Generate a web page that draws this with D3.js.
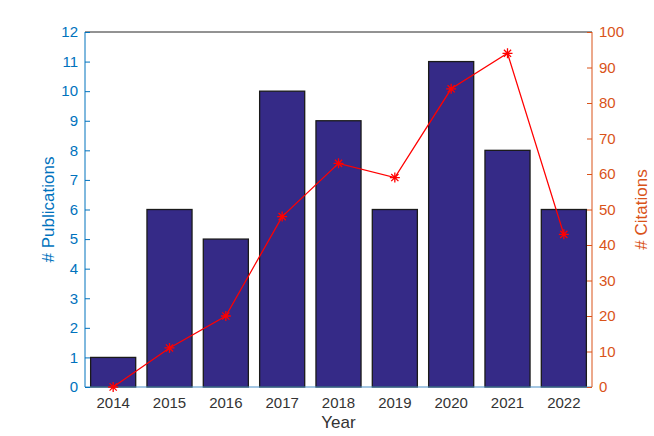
<!DOCTYPE html>
<html>
<head>
<meta charset="utf-8">
<script src="https://cdn.jsdelivr.net/npm/d3@7"></script>
<style>
  body { margin: 0; background: #fff; }
  svg { font-family: "Liberation Sans", Arial, sans-serif; }
</style>
</head>
<body>
<svg id="chart" width="654" height="436"></svg>
<script>
// data
const years = [2014, 2015, 2016, 2017, 2018, 2019, 2020, 2021, 2022]
const publications = [1, 6, 5, 10, 9, 6, 11, 8, 6]
const citations = [0, 11, 20, 48, 63, 59, 84, 94, 43]
const pubTicks = [0, 1, 2, 3, 4, 5, 6, 7, 8, 9, 10, 11, 12]
const citTicks = [0, 10, 20, 30, 40, 50, 60, 70, 80, 90, 100]

const blue = '#0072bd', orange = '#d95319'
const margin = {top: 32, right: 62, bottom: 49, left: 85}
const svg = d3.select('#chart')
const width = 654 - margin.left - margin.right,
    height = 436 - margin.top - margin.bottom

const g = svg.append('g').attr('transform', `translate(${margin.left},${margin.top})`)

const x = d3.scaleBand().domain(years).range([0, width]).paddingInner(0.2).paddingOuter(0.1)
const yL = d3.scaleLinear().domain([0, 12]).range([height, 0])
const yR = d3.scaleLinear().domain([0, 100]).range([height, 0])

// bars
g.selectAll('rect.bar')
    .data(years)
    .enter()
        .append('rect')
        .classed('bar', true)
        .attr('x', d => x(d))
        .attr('width', x.bandwidth())
        .attr('y', (d, i) => yL(publications[i]))
        .attr('height', (d, i) => height - yL(publications[i]))
        .attr('fill', '#352a87')
        .attr('stroke', '#1a1a1a')
        .attr('stroke-width', 1.3)

// frame top
g.append('line')
    .attr('x1', 0).attr('x2', width).attr('y1', 0).attr('y2', 0)
    .attr('stroke', '#262626').attr('stroke-width', 1)

// baseline
g.append('line')
    .attr('x1', 0).attr('x2', width).attr('y1', height).attr('y2', height)
    .attr('stroke', '#4a90c8').attr('stroke-width', 1.2)

// left axis
const axL = g.append('g')
    .call(d3.axisLeft(yL).tickValues(pubTicks).tickSize(-5).tickPadding(7).tickFormat(d3.format('d')))
axL.selectAll('path, line').attr('stroke', blue)
axL.selectAll('text').attr('fill', blue).style('font-size', '15px')
axL.select('.domain').attr('d', `M0,${height}V0`)

// right axis
const axR = g.append('g')
    .attr('transform', `translate(${width},0)`)
    .call(d3.axisRight(yR).tickValues(citTicks).tickSize(-5).tickPadding(7).tickFormat(d3.format('d')))
axR.selectAll('path, line').attr('stroke', orange)
axR.selectAll('text').attr('fill', orange).style('font-size', '15px')
axR.select('.domain').attr('d', `M0,${height}V0`)

// x labels
const axX = g.append('g')
    .attr('transform', `translate(0,${height})`)
    .call(d3.axisBottom(x).tickSize(0).tickPadding(10))
axX.select('.domain').remove()
axX.selectAll('text').attr('fill', '#333').style('font-size', '15px')

// citations line
const line = d3.line()
    .x((d, i) => x(years[i]) + x.bandwidth() / 2)
    .y(d => yR(d))

g.append('path')
    .datum(citations)
    .attr('d', line)
    .attr('fill', 'none')
    .attr('stroke', '#ff0000')
    .attr('stroke-width', 1.3)

// asterisk markers
const r = 5
const markers = g.selectAll('g.marker')
    .data(citations)
    .enter()
        .append('g')
        .classed('marker', true)
        .attr('transform', (d, i) => `translate(${x(years[i]) + x.bandwidth() / 2},${yR(d)})`)

markers.append('path')
    .attr('d', `M${-r},0H${r}M0,${-r}V${r}M${-r * 0.72},${-r * 0.72}L${r * 0.72},${r * 0.72}M${-r * 0.72},${r * 0.72}L${r * 0.72},${-r * 0.72}`)
    .attr('stroke', '#ff0000')
    .attr('stroke-width', 1.3)
    .attr('fill', 'none')

// axis titles
svg.append('text')
    .attr('x', margin.left + width / 2)
    .attr('y', 428)
    .attr('text-anchor', 'middle')
    .attr('fill', '#333')
    .style('font-size', '17px')
    .text('Year')

svg.append('text')
    .attr('transform', `translate(54,${margin.top + height / 2}) rotate(-90)`)
    .attr('text-anchor', 'middle')
    .attr('fill', blue)
    .style('font-size', '17px')
    .text('# Publications')

svg.append('text')
    .attr('transform', `translate(647,${margin.top + height / 2}) rotate(-90)`)
    .attr('text-anchor', 'middle')
    .attr('fill', orange)
    .style('font-size', '17px')
    .text('# Citations')
</script>
</body>
</html>
